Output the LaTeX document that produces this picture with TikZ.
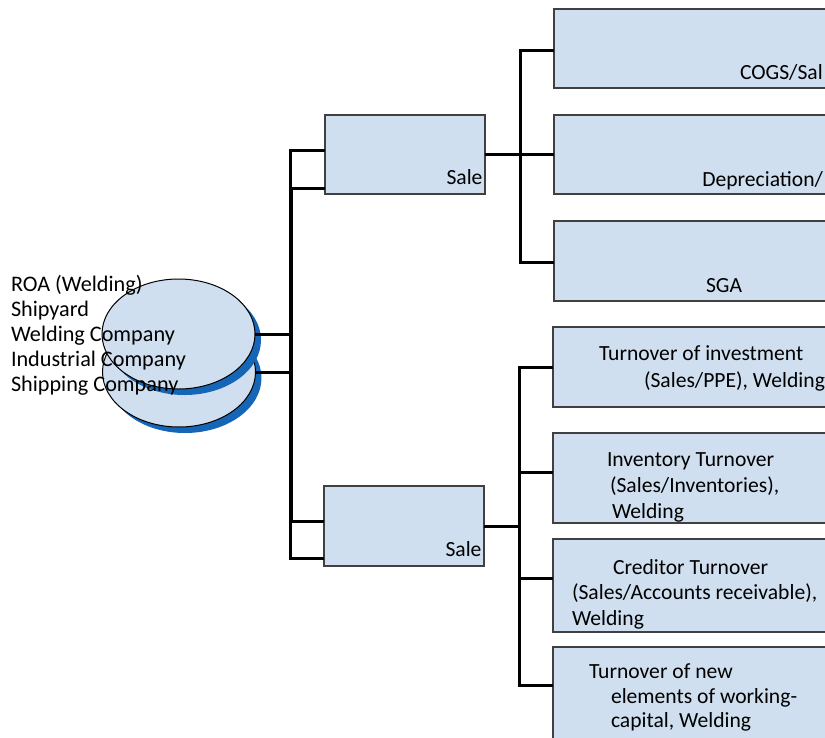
\documentclass[tikz,border=0pt]{standalone}
\usepackage{fontspec}
\setmainfont{Carlito}
\usetikzlibrary{shapes.geometric,shadows,calc}
\definecolor{boxfill}{RGB}{207,223,239}
\definecolor{boxline}{RGB}{64,64,64}
\definecolor{shadeblue}{RGB}{22,102,184}
\begin{document}
\begin{tikzpicture}[x=1pt,y=-1pt,
  box/.style={draw=boxline,line width=1.6pt,fill=boxfill,rectangle,anchor=north west,inner sep=0pt,outer sep=0pt},
  disc/.style={draw=black,line width=1pt,fill=boxfill,ellipse,inner sep=0pt,outer sep=0pt,
    minimum width=153pt,minimum height=110pt,
    general shadow={fill=shadeblue,shadow xshift=6pt,shadow yshift=-6pt}},
  conn/.style={draw=black,line width=3pt},
  lbl/.style={inner sep=0pt,outer sep=0pt,anchor=base west,font=\fontsize{21.6}{25.5}\selectfont},
  lble/.style={lbl,anchor=base east},
  side/.style={lbl,font=\fontsize{22.2}{25.5}\selectfont}]
\path[use as bounding box,clip] (0,0) rectangle (825,737);

% stacked discs
\node[disc] (e2) at (179,372) {};
\node[disc] (e1) at (178.5,334) {};

% middle boxes
\node[box,minimum width=160pt,minimum height=79pt] (ubox) at (325,115) {};
\node[box,minimum width=160pt,minimum height=80pt] (lbox) at (324,486) {};

% right column (runs past the page edge)
\node[box,minimum width=400pt,minimum height=79pt] (b1) at (554,9) {};
\node[box,minimum width=400pt,minimum height=79pt] (b2) at (554,115) {};
\node[box,minimum width=400pt,minimum height=80pt] (b3) at (554,221) {};
\node[box,minimum width=400pt,minimum height=80pt] (b4) at (553,327) {};
\node[box,minimum width=400pt,minimum height=90pt] (b5) at (553,433) {};
\node[box,minimum width=400pt,minimum height=93pt] (b6) at (553,539) {};
\node[box,minimum width=400pt,minimum height=93pt] (b7) at (553,647) {};

% connectors from the discs to the middle boxes
\draw[conn] (e1.east) -- (290,334) |- ($(ubox.north west)+(0,35)$);
\draw[conn] (e1.east) -- (290,334) |- ($(lbox.north west)+(0,72)$);
\draw[conn] (e2.east) -- (291.5,372) |- ($(ubox.north west)+(0,73)$);
\draw[conn] (e2.east) -- (291.5,372) |- ($(lbox.north west)+(0,35)$);

% upper branch
\draw[conn] (ubox.east) -- (520,154.5);
\draw[conn] (520,154.5) |- ($(b1.north west)+(0,41)$);
\draw[conn] (520,154.5) -- (b2.west);
\draw[conn] (520,154.5) |- ($(b3.north west)+(0,41)$);

% lower branch
\draw[conn] (lbox.east) -- (519,526);
\draw[conn] (519,526) |- ($(b4.north west)+(0,40)$);
\draw[conn] (519,526) |- ($(b5.north west)+(0,39)$);
\draw[conn] (519,526) |- ($(b6.north west)+(0,39)$);
\draw[conn] (519,526) |- ($(b7.north west)+(0,38)$);

% labels
\node[side] (t1) at (11,291) {ROA (Welding)};
\node[side] (t2) at (11,316) {Shipyard};
\node[side] (t3) at (11,341.5) {Welding Company};
\node[side] (t4) at (11,366.5) {Industrial Company};
\node[side] (t5) at (11,391.5) {Shipping Company};

\node[lble] (s1) at (482.5,184) {Sale};
\node[lble] (s2) at (481.5,556.5) {Sale};

\node[lbl] (c1) at (740,79) {COGS/Sal};
\node[lble] (c2) at (823,186) {Depreciation/};
\node[lbl] (c3) at (706,292) {SGA};

\node[lbl] (d1) at (599,360) {Turnover of investment};
\node[lbl] (d2) at (644,387) {(Sales/PPE), Welding};

\node[lbl] (f1) at (607,466.5) {Inventory Turnover};
\node[lbl] (f2) at (610,492.5) {(Sales/Inventories),};
\node[lbl] (f3) at (612,518) {Welding};

\node[lbl] (g1) at (613,574) {Creditor Turnover};
\node[lbl] (g2) at (572,599.5) {(Sales/Accounts receivable),};
\node[lbl] (g3) at (572,625) {Welding};

\node[lbl] (h1) at (589,678) {Turnover of new};
\node[lbl] (h2) at (611,703) {elements of working-};
\node[lbl] (h3) at (611,727) {capital, Welding};
\end{tikzpicture}
\end{document}
